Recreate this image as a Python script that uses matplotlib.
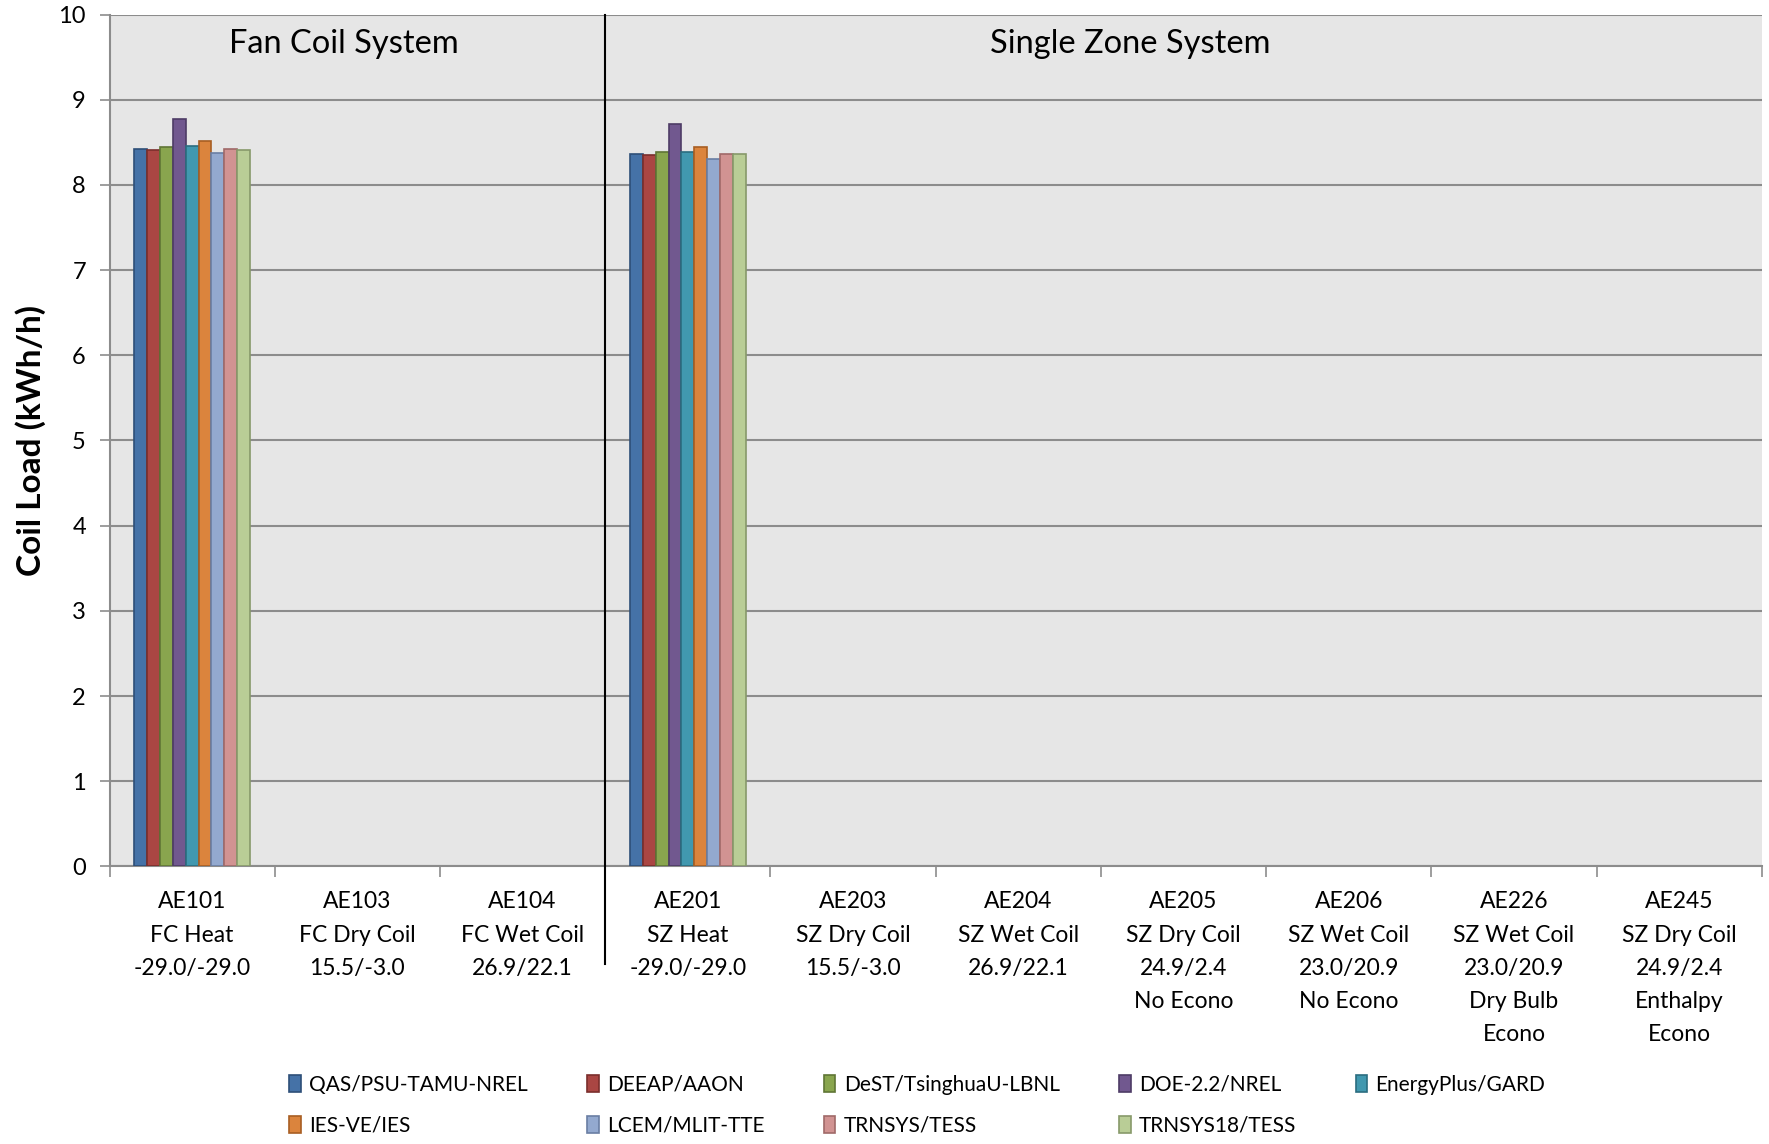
import numpy as np
import matplotlib.pyplot as plt

plt.rcParams.update({
    "font.family": ["Lato", "DejaVu Sans"],
})

# ---------------------------------------------------------------------------
# Data
# ---------------------------------------------------------------------------
categories = [
    "AE101\nFC Heat\n-29.0/-29.0",
    "AE103\nFC Dry Coil\n15.5/-3.0",
    "AE104\nFC Wet Coil\n26.9/22.1",
    "AE201\nSZ Heat\n-29.0/-29.0",
    "AE203\nSZ Dry Coil\n15.5/-3.0",
    "AE204\nSZ Wet Coil\n26.9/22.1",
    "AE205\nSZ Dry Coil\n24.9/2.4\nNo Econo",
    "AE206\nSZ Wet Coil\n23.0/20.9\nNo Econo",
    "AE226\nSZ Wet Coil\n23.0/20.9\nDry Bulb\nEcono",
    "AE245\nSZ Dry Coil\n24.9/2.4\nEnthalpy\nEcono",
]
programs = [
    "QAS/PSU-TAMU-NREL", "DEEAP/AAON", "DeST/TsinghuaU-LBNL", "DOE-2.2/NREL",
    "EnergyPlus/GARD", "IES-VE/IES", "LCEM/MLIT-TTE", "TRNSYS/TESS",
    "TRNSYS18/TESS",
]
# only AE101 and AE201 have results; the rest are blank
ae101 = [8.42, 8.41, 8.45, 8.77, 8.46, 8.52, 8.38, 8.42, 8.41]
ae201 = [8.36, 8.35, 8.39, 8.72, 8.39, 8.45, 8.31, 8.36, 8.36]

colors = ["#4572A7", "#AA4643", "#89A54E", "#71588F", "#4198AF",
          "#DB843D", "#93A9CF", "#D19392", "#B9CD96"]
edges = ["#2E4F78", "#7A2E2C", "#5F7535", "#4E3C66", "#2B6D80",
         "#A85E22", "#6A7EA3", "#A06968", "#87996A"]

# ---------------------------------------------------------------------------
# Figure
# ---------------------------------------------------------------------------
fig = plt.figure(figsize=(17.69, 11.44), dpi=100)
ax = fig.add_axes([0.0619, 0.2427, 0.9341, 0.7445])
ax.set_facecolor("#E6E6E6")

n_cat = len(categories)
n_ser = len(programs)
x = np.arange(n_cat)
width = 0.078
offsets = (np.arange(n_ser) - (n_ser - 1) / 2) * width

handles = []
for i, (name, col, ec) in enumerate(zip(programs, colors, edges)):
    vals = np.full(n_cat, np.nan)
    vals[0] = ae101[i]
    vals[3] = ae201[i]
    h = ax.bar(x + offsets[i], vals, width, color=col, edgecolor=ec,
               linewidth=1.2, label=name, zorder=3)
    handles.append(h)

ax.set_xlim(-0.5, n_cat - 0.5)
ax.set_ylim(0, 10)
ax.set_yticks(range(0, 11))
ax.yaxis.grid(True, color="#8C8C8C", lw=1.5, zorder=0)
ax.tick_params(axis="y", labelsize=17, length=7, width=1.2, color="#8C8C8C",
               pad=10)
ax.set_ylabel("Coil Load (kWh/h)", fontsize=24, fontweight="bold", labelpad=9)

# category labels between boundary ticks
ax.set_xticks(np.arange(n_cat + 1) - 0.5)
ax.set_xticklabels([])
ax.set_xticks(x, minor=True)
ax.set_xticklabels(categories, minor=True, fontsize=16.5, linespacing=1.72,
                   va="top")
ax.tick_params(axis="x", which="major", length=8, width=1.2, color="#8C8C8C")
ax.tick_params(axis="x", which="minor", length=0, pad=18)

for side in ["top", "right"]:
    ax.spines[side].set_visible(False)
for side in ["left", "bottom"]:
    ax.spines[side].set_color("#8C8C8C")
    ax.spines[side].set_linewidth(1.5)

# system divider and group titles
ax.axvline(2.5, ymin=-0.115, ymax=1.0, color="black", lw=1.5, clip_on=False,
           zorder=4)
ax.text(0.92, 9.65, "Fan Coil System", fontsize=23.5, ha="center",
        va="center")
ax.text(5.68, 9.65, "Single Zone System", fontsize=23.5, ha="center",
        va="center")

# legend filled row by row like the original
order = [0, 5, 1, 6, 2, 7, 3, 8, 4]
fig.legend([handles[k] for k in order], [programs[k] for k in order],
           loc="lower left", bbox_to_anchor=(0.153, -0.009), ncol=5,
           frameon=False, fontsize=15, handlelength=0.55, handleheight=0.85,
           handletextpad=0.4, columnspacing=2.85, labelspacing=1.0)

fig.savefig("out.png", dpi=100)
